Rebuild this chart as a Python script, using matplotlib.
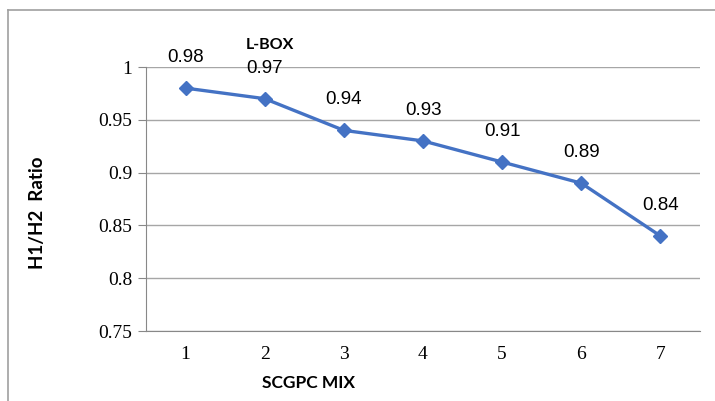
import matplotlib.pyplot as plt
from matplotlib.lines import Line2D

mix = [1, 2, 3, 4, 5, 6, 7]
ratio = [0.98, 0.97, 0.94, 0.93, 0.91, 0.89, 0.84]
yticks = [0.75, 0.8, 0.85, 0.9, 0.95, 1.0]
ytick_labels = ['0.75', '0.8', '0.85', '0.9', '0.95', '1']

W, H = 715, 401
fig = plt.figure(figsize=(W / 100, H / 100), dpi=100)
ax = fig.add_axes([146 / W, 1 - 331 / H, (700 - 146) / W, (331 - 67) / H])

ax.plot(mix, ratio, color='#4472C4', linewidth=2.4, marker='D', markersize=7.5,
        zorder=3)
for x, y in zip(mix, ratio):
    ax.annotate(f'{y:.2f}', (x, y), xytext=(0, 22), textcoords='offset points',
                ha='center', va='center', fontsize=13.5, family='Liberation Sans')

ax.set_xlim(0.5, 7.5)
ax.set_ylim(0.75, 1.0)
ax.set_xticks(mix)
ax.set_xticklabels([str(m) for m in mix], family='Liberation Serif', fontsize=14)
ax.set_yticks(yticks)
ax.set_yticklabels(ytick_labels, family='Liberation Serif', fontsize=14)
ax.tick_params(axis='x', length=0, pad=11)
ax.tick_params(axis='y', length=6, color='#888888', pad=4)
ax.grid(axis='y', color='#a6a6a6', linewidth=1)
ax.set_axisbelow(True)
for s in ['top', 'right']:
    ax.spines[s].set_visible(False)
ax.spines['left'].set_color('#888888')
ax.spines['bottom'].set_color('#888888')

fig.text(270 / W, 1 - 45 / H, 'L-BOX', ha='center', va='center',
         fontsize=11.5, fontweight='bold', family='Lato')
fig.text(308 / W, 1 - 383 / H, 'SCGPC MIX', ha='center', va='center',
         fontsize=12.5, fontweight='bold', family='Lato')
fig.text(38 / W, 1 - 213 / H, 'H1/H2  Ratio', ha='center', va='center',
         rotation=90, fontsize=13.5, fontweight='bold', family='Lato')

# outer chart border
fig.add_artist(Line2D([8 / W, 1.0], [1 - 10 / H, 1 - 10 / H], color='#a0a0a0', linewidth=1.2))
fig.add_artist(Line2D([8 / W, 8 / W], [0.0, 1 - 10 / H], color='#a0a0a0', linewidth=1.2))

fig.savefig('out.png', dpi=100)
